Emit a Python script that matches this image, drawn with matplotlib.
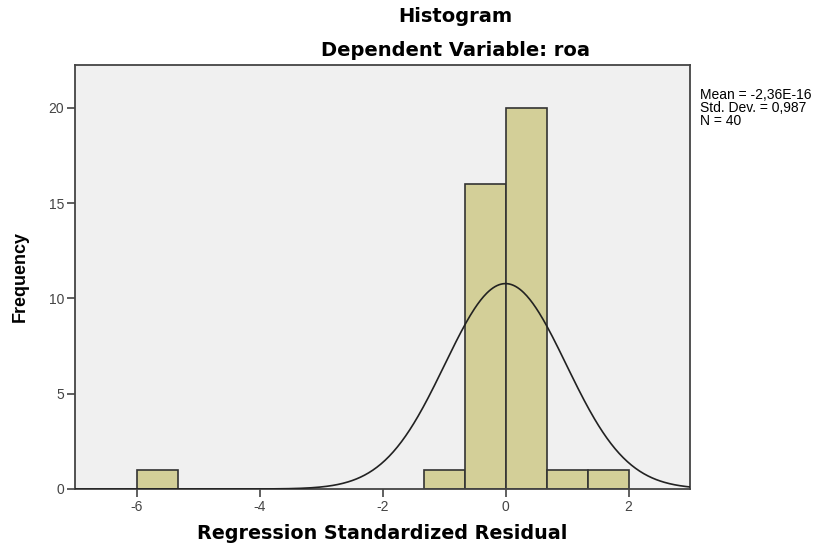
import numpy as np
import matplotlib
matplotlib.use("Agg")
import matplotlib.pyplot as plt

plt.rcParams['font.family'] = ['Liberation Sans', 'DejaVu Sans']

# Histogram bins (left edges) and counts
bin_width = 2.0 / 3.0
bin_lefts = [-6.0, -4.0 / 3.0, -2.0 / 3.0, 0.0, 2.0 / 3.0, 4.0 / 3.0]
counts = [1, 1, 16, 20, 1, 1]

mean = -2.36e-16
std = 0.987
n = 40

xticks = [-6, -4, -2, 0, 2]
yticks = [0, 5, 10, 15, 20]

fig = plt.figure(figsize=(8.3, 5.46), dpi=100)
fig.patch.set_facecolor("white")
ax = fig.add_axes([75 / 830, 57 / 546, 615 / 830, 424 / 546])
ax.set_facecolor("#F0F0F0")

ax.bar(bin_lefts, counts, width=bin_width, align="edge",
       color="#D3CF98", edgecolor="#333333", linewidth=1.2, zorder=2)

xs = np.linspace(-7, 3, 600)
ys = n * bin_width / (std * np.sqrt(2 * np.pi)) * np.exp(-0.5 * ((xs - mean) / std) ** 2)
ax.plot(xs, ys, color="#222222", linewidth=1.2, zorder=3)

ax.set_xlim(-7, 3)
ax.set_ylim(0, 22.25)
ax.set_xticks(xticks)
ax.set_xticklabels([str(t) for t in xticks])
ax.set_yticks(yticks)

for s in ax.spines.values():
    s.set_color("#444444")
    s.set_linewidth(1.3)

ax.tick_params(direction="out", length=6, width=1.2, color="#444444",
               labelsize=10, labelcolor="#444444", pad=2)

bold_wide = ['DejaVu Sans']
ax.set_xlabel("Regression Standardized Residual", fontsize=13.8, fontweight="bold",
              labelpad=7, family=bold_wide)
ax.yaxis.set_label_coords(-(75 - 20) / 615, 0.5)
ax.set_ylabel("Frequency", fontsize=13, fontweight="bold",
              va="center")

fig.text(455 / 830, 1 - 17 / 546, "Histogram", ha="center", va="center",
         fontsize=14, fontweight="bold", family=bold_wide)
fig.text(455 / 830, 1 - 51 / 546, "Dependent Variable: roa", ha="center",
         va="center", fontsize=14, fontweight="bold", family=bold_wide)

fig.text(700 / 830, 1 - 108 / 546,
         "Mean = -2,36E-16\nStd. Dev. = 0,987\nN = 40",
         ha="left", va="center", fontsize=10, linespacing=0.95)

fig.savefig("out.png", dpi=100)
